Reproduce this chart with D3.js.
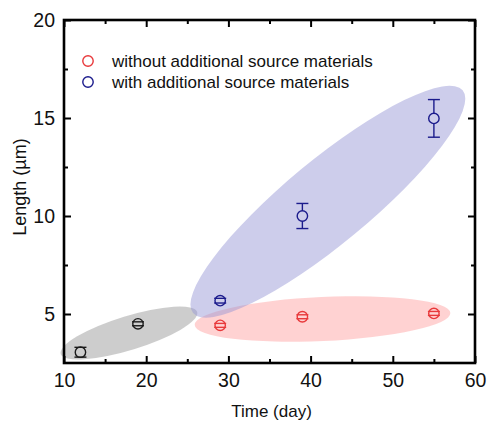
<!DOCTYPE html>
<html>
<head>
<meta charset="utf-8">
<script src="https://cdn.jsdelivr.net/npm/d3@7"></script>
<style>
  html, body { margin: 0; padding: 0; background: #fff; }
  svg { display: block; font-family: "Liberation Sans", Arial, sans-serif; }
</style>
</head>
<body>
<svg id="chart" width="488" height="421"></svg>
<script>
// ---- data ----
const xTicks = [10, 20, 30, 40, 50, 60];
const yTicks = [5, 10, 15, 20];
const xMinorTicks = [15, 25, 35, 45, 55];
const yMinorTicks = [7.5, 12.5, 17.5];

const blackDays = [12, 19];
const blackLength = [3.05, 4.5];
const blackErr = [0.25, 0.1];

const redDays = [29, 39, 55];
const redLength = [4.42, 4.86, 5.03];
const redErr = [0.1, 0.1, 0.1];

const blueDays = [29, 39, 55];
const blueLength = [5.68, 10.0, 14.98];
const blueErr = [0.12, 0.64, 0.96];

const legendLabels = ["without additional source materials", "with additional source materials"];

// highlight ellipses: tips in data units
const ellipseTipsX = [[25.9, 57.0], [9.6, 26.2], [25.7, 58.5]];
const ellipseTipsY = [[4.44, 5.05], [2.96, 5.10], [5.05, 16.41]];

// ---- layout ----
const svg = d3.select("#chart");
const L = 64, R = 475, T = 20, B = 363;
const x = d3.scaleLinear().domain([10, 60]).range([L, R]);
const y = d3.scaleLinear().domain([2.5, 20]).range([B, T]);

const ellipseHalfWidth = [22, 17, 42];
const ellipseFill = ["rgb(255,160,160)", "rgb(150,150,150)", "rgb(150,150,214)"];

// ellipses
ellipseTipsX.forEach((tx, i) => {
  const x1 = x(tx[0]), y1 = y(ellipseTipsY[i][0]);
  const x2 = x(tx[1]), y2 = y(ellipseTipsY[i][1]);
  const cx = (x1 + x2) / 2, cy = (y1 + y2) / 2;
  const rx = Math.hypot(x2 - x1, y2 - y1) / 2;
  const ang = Math.atan2(y2 - y1, x2 - x1) * 180 / Math.PI;
  svg.append("ellipse")
    .attr("cx", 0).attr("cy", 0)
    .attr("rx", rx).attr("ry", ellipseHalfWidth[i])
    .attr("transform", `translate(${cx},${cy}) rotate(${ang})`)
    .attr("fill", ellipseFill[i]).attr("fill-opacity", 0.48);
});

// axes
const axisColor = "#000";
function styleAxis(g) {
  g.select(".domain").remove();
  g.selectAll(".tick line").attr("stroke", axisColor).attr("stroke-width", 2);
  g.selectAll(".tick text").attr("fill", "#111").attr("font-size", "19.5px")
    .attr("font-family", "Liberation Sans, Arial, sans-serif");
}
// bottom
svg.append("g").attr("transform", `translate(0,${B})`)
  .call(d3.axisBottom(x).tickValues(xTicks).tickSize(-7).tickPadding(10).tickFormat(d3.format("d")))
  .call(styleAxis)
  .call(g => g.selectAll(".tick text").attr("dy", "0.71em"));
svg.append("g").attr("transform", `translate(0,${B})`)
  .call(d3.axisBottom(x).tickValues(xMinorTicks).tickSize(-4).tickFormat(""))
  .call(styleAxis);
// top
svg.append("g").attr("transform", `translate(0,${T})`)
  .call(d3.axisTop(x).tickValues(xTicks).tickSize(-7).tickFormat(""))
  .call(styleAxis);
svg.append("g").attr("transform", `translate(0,${T})`)
  .call(d3.axisTop(x).tickValues(xMinorTicks).tickSize(-4).tickFormat(""))
  .call(styleAxis);
// left
svg.append("g").attr("transform", `translate(${L},0)`)
  .call(d3.axisLeft(y).tickValues(yTicks).tickSize(-7).tickPadding(9).tickFormat(d3.format("d")))
  .call(styleAxis);
svg.append("g").attr("transform", `translate(${L},0)`)
  .call(d3.axisLeft(y).tickValues(yMinorTicks).tickSize(-4).tickFormat(""))
  .call(styleAxis);
// right
svg.append("g").attr("transform", `translate(${R},0)`)
  .call(d3.axisRight(y).tickValues(yTicks).tickSize(-7).tickFormat(""))
  .call(styleAxis);
svg.append("g").attr("transform", `translate(${R},0)`)
  .call(d3.axisRight(y).tickValues(yMinorTicks).tickSize(-4).tickFormat(""))
  .call(styleAxis);

// frame
svg.append("rect").attr("x", L).attr("y", T).attr("width", R - L).attr("height", B - T)
  .attr("fill", "none").attr("stroke", axisColor).attr("stroke-width", 2.6);

// series
const r = 5.2, capW = 6;
function drawSeries(days, vals, errs, color) {
  const g = svg.append("g").attr("stroke", color).attr("fill", "none").attr("stroke-width", 1.4);
  days.forEach((d, i) => {
    const cx = x(d), cy = y(vals[i]);
    const yt = y(vals[i] + errs[i]), yb = y(vals[i] - errs[i]);
    if (cy - yt > r) {
      g.append("line").attr("x1", cx).attr("x2", cx).attr("y1", yt).attr("y2", cy - r);
      g.append("line").attr("x1", cx).attr("x2", cx).attr("y1", cy + r).attr("y2", yb);
    }
    g.append("line").attr("x1", cx - capW).attr("x2", cx + capW).attr("y1", yt).attr("y2", yt);
    g.append("line").attr("x1", cx - capW).attr("x2", cx + capW).attr("y1", yb).attr("y2", yb);
    g.append("circle").attr("cx", cx).attr("cy", cy).attr("r", r);
  });
}
const red = "#e8393b", blue = "#1b1b8c", black = "#1a1a1a";
drawSeries(blackDays, blackLength, blackErr, black);
drawSeries(redDays, redLength, redErr, red);
drawSeries(blueDays, blueLength, blueErr, blue);

// legend
const legColors = [red, blue];
legendLabels.forEach((t, i) => {
  const ly = 61 + i * 21;
  svg.append("circle").attr("cx", 88).attr("cy", ly).attr("r", 5.2)
    .attr("fill", "none").attr("stroke", legColors[i]).attr("stroke-width", 1.4);
  svg.append("text").attr("x", 112).attr("y", ly + 6).attr("font-size", "17px")
    .attr("fill", "#111").text(t);
});

// axis titles
svg.append("text").attr("x", (L + R) / 2 + 2).attr("y", 417).attr("text-anchor", "middle")
  .attr("font-size", "17px").attr("fill", "#111").text("Time (day)");
svg.append("text").attr("transform", `translate(26,187) rotate(-90)`)
  .attr("text-anchor", "middle").attr("font-size", "18px").attr("fill", "#111").text("Length (µm)");
</script>
</body>
</html>
